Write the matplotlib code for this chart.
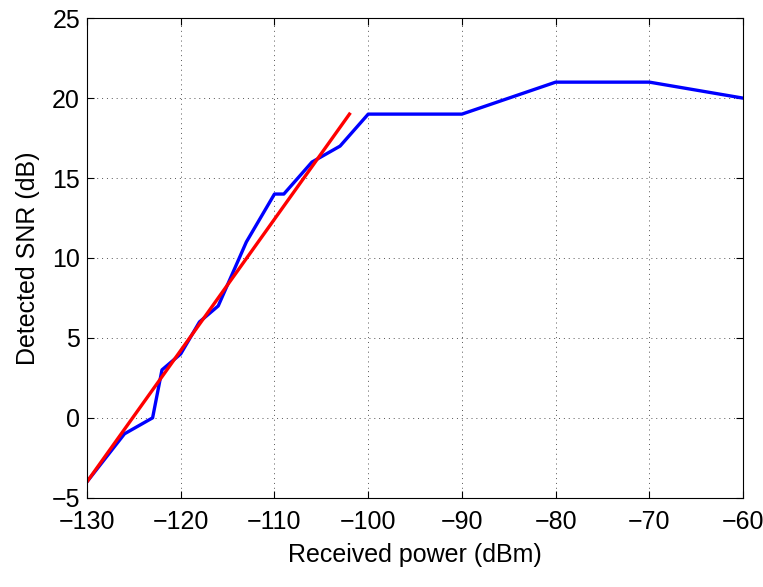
import numpy as np
import matplotlib
matplotlib.use("Agg")
import matplotlib.pyplot as plt

plt.rcParams['font.family'] = ['Liberation Sans', 'DejaVu Sans']

# measured SNR vs received power
power = [-130, -126, -123, -122, -120, -118, -116, -113, -110, -109, -106, -103, -100, -90, -80, -70, -60]
snr = [-4, -1, 0, 3, 4, 6, 7, 11, 14, 14, 16, 17, 19, 19, 21, 21, 20]

# linear fit
fit_x = [-130, -102]
fit_y = [-4, 19]

fig = plt.figure(figsize=(7.63, 5.87), dpi=100)
ax = fig.add_axes([0.114, 0.152, 0.86, 0.817])

ax.plot(power, snr, color='#0000ff', lw=2.4)
ax.plot(fit_x, fit_y, color='#ff0000', lw=2.4)

ax.set_xlim(-130, -60)
ax.set_ylim(-5, 25)
ax.set_xticks(np.arange(-130, -59, 10))
ax.set_yticks(np.arange(-5, 26, 5))
ax.grid(True, linestyle=(0, (1, 4)), color='#555555', lw=0.7)
ax.tick_params(direction='in', labelsize=18, length=5, top=True, right=True)
ax.tick_params(axis='x', pad=9)
ax.tick_params(axis='y', pad=5)
ax.set_xlabel('Received power (dBm)', fontsize=18, labelpad=6)
ax.set_ylabel('Detected SNR (dB)', fontsize=18, labelpad=8)
for s in ax.spines.values():
    s.set_linewidth(0.8)

fig.savefig('out.png', dpi=100)
